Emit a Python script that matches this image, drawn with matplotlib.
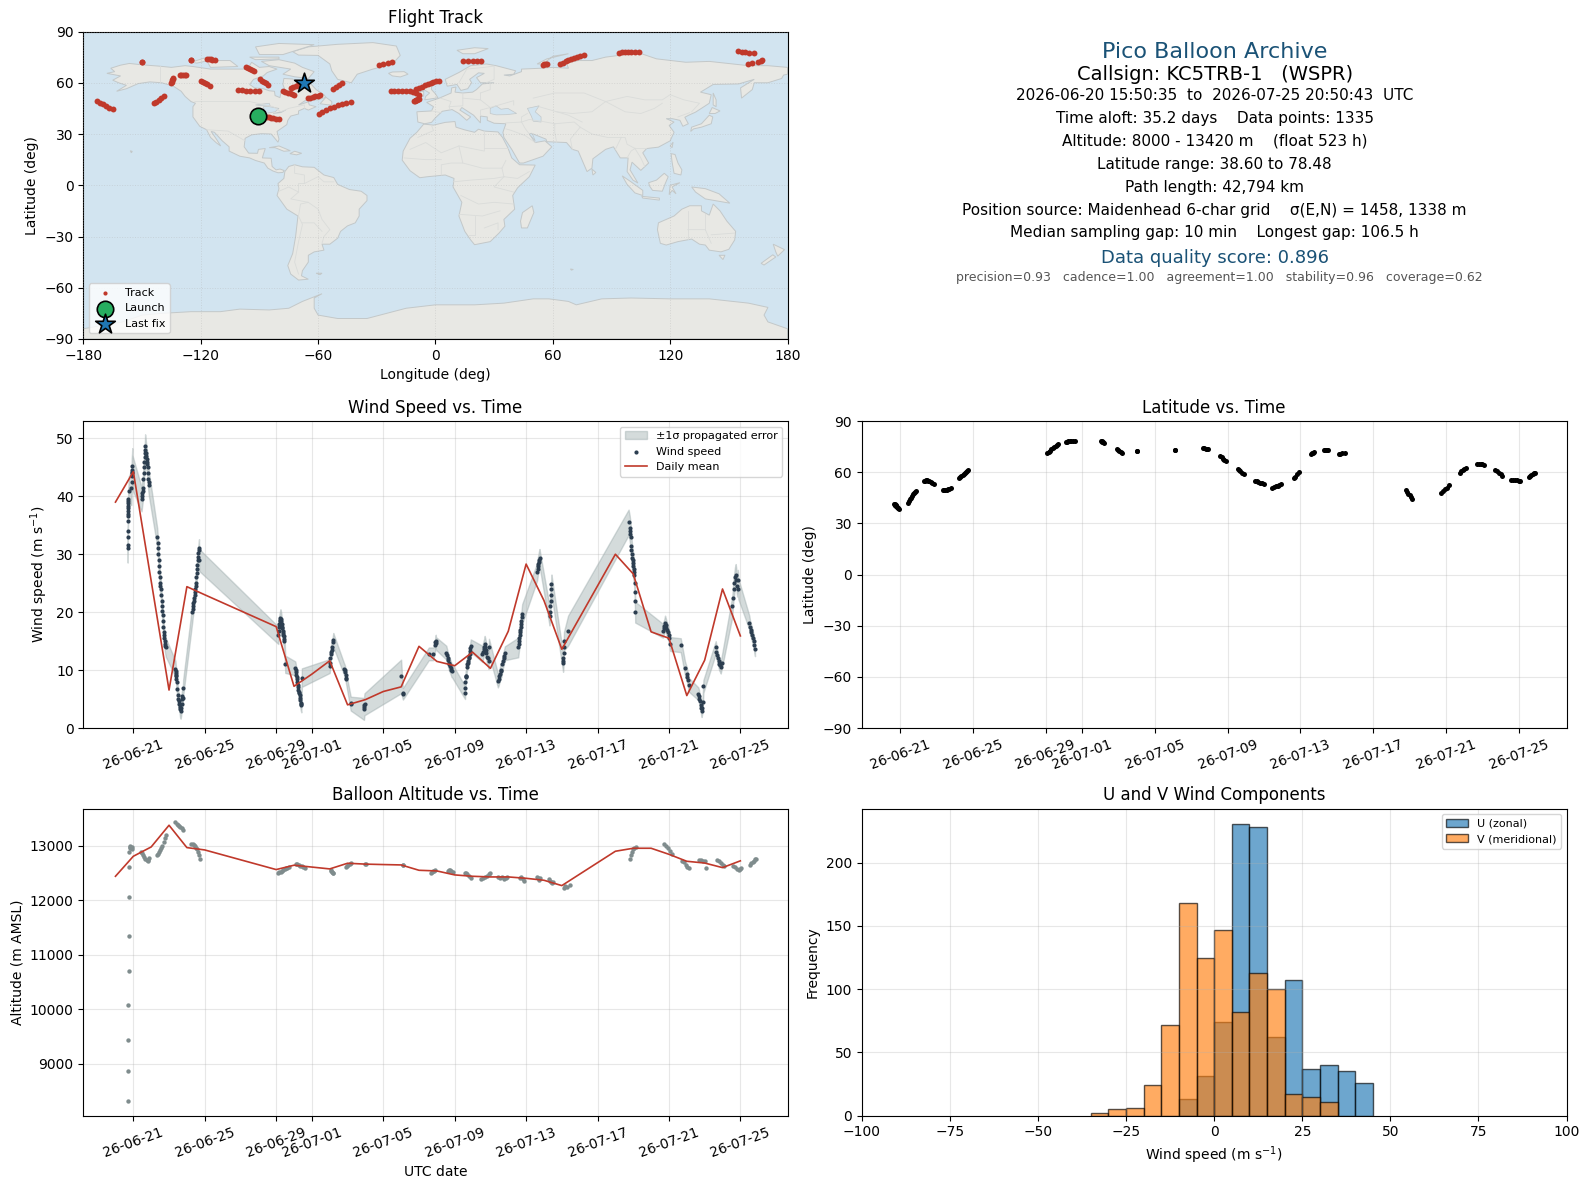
from datetime import datetime
import matplotlib
matplotlib.use("Agg")
import matplotlib.pyplot as plt
import matplotlib.dates as mdates
import numpy as np

# all times are days since 2026-06-20 00:00 UTC
T0 = mdates.date2num(datetime(2026, 6, 20))

track_t = [
    .70, .71, .72, .73, .74, .75, .76, .77, .78, .80, .82, .84, .87, .90, .93,
    1.45, 1.5, 1.56, 1.62, 1.68, 1.74, 1.8, 1.85, 1.9,
    2.35, 2.4, 2.45, 2.5, 2.55, 2.62, 2.7, 2.78, 2.85,
    3.35, 3.42, 3.5, 3.57, 3.64, 3.72, 3.8,
    4.25, 4.32, 4.38, 4.44, 4.5, 4.56, 4.62, 4.68, 4.75,
    9.1, 9.17, 9.25, 9.32, 9.4, 9.47, 9.55, 9.62, 9.7,
    10.1, 10.18, 10.26, 10.34, 10.42, 10.5, 10.6,
    12.05, 12.09, 12.13, 12.17, 12.2,
    12.9, 12.98, 13.05, 13.12, 13.2,
    14.0, 14.02,
    16.1, 16.12,
    17.65, 17.72, 17.8, 17.85, 17.9,
    18.6, 18.67, 18.74, 18.82, 18.9,
    19.55, 19.62, 19.7, 19.8, 19.9,
    20.5, 20.6, 20.7, 20.8, 20.9, 21.0,
    21.45, 21.55, 21.65, 21.75, 21.85, 21.95,
    22.65, 22.72, 22.8, 22.9,
    23.6, 23.65, 23.7, 23.75,
    24.3, 24.35, 24.4, 24.45, 24.5,
    25.1, 25.2, 25.3, 25.45,
    28.8, 28.87, 28.94, 29.0, 29.07, 29.15,
    30.75, 30.85, 30.95, 31.05, 31.15,
    31.75, 31.85, 31.95, 32.0, 32.1,
    32.7, 32.8, 32.9, 33.0, 33.1,
    33.7, 33.8, 33.9, 34.0, 34.1,
    34.6, 34.7, 34.8, 34.9, 35.0, 35.05,
    35.55, 35.62, 35.7, 35.77, 35.83, 35.87,
]
track_alt = [
    8312, 8870, 9440, 10070, 10700, 11340, 12050, 12600, 12880, 12950, 12970, 12990, 12960, 12930, 12970,
    12880, 12860, 12830, 12790, 12760, 12730, 12710, 12740, 12770,
    12820, 12840, 12880, 12910, 12950, 13000, 13060, 13130, 13190,
    13430, 13390, 13370, 13350, 13340, 13330, 13290,
    13025, 13020, 13010, 12990, 12960, 12930, 12890, 12830, 12760,
    12490, 12510, 12520, 12540, 12560, 12570, 12580, 12590, 12600,
    12670, 12660, 12650, 12630, 12620, 12600, 12580,
    12560, 12540, 12520, 12500, 12490,
    12610, 12630, 12650, 12670, 12680,
    12660, 12660,
    12640, 12640,
    12500, 12510, 12530, 12540, 12550,
    12540, 12560, 12550, 12530, 12510,
    12490, 12500, 12470, 12440, 12410,
    12390, 12400, 12420, 12450, 12480, 12500,
    12430, 12400, 12420, 12380, 12400, 12430,
    12410, 12430, 12380, 12350,
    12430, 12400, 12370, 12400,
    12380, 12350, 12330, 12310, 12340,
    12230, 12250, 12240, 12270,
    12760, 12820, 12880, 12930, 12960, 12975,
    13020, 12990, 12950, 12900, 12850,
    12720, 12690, 12650, 12610, 12580,
    12740, 12730, 12710, 12720, 12580,
    12730, 12710, 12680, 12650, 12630,
    12630, 12600, 12570, 12550, 12570, 12590,
    12640, 12680, 12700, 12720, 12760, 12750,
]
track_lat = [
    41.2, 41.1, 41.0, 40.9, 40.8, 40.7, 40.5, 40.4, 40.2, 40.0, 39.8, 39.5, 39.2, 38.9, 38.6,
    42, 43, 44, 45, 46, 47, 47.8, 48.4, 49,
    55.0, 55.1, 55.2, 55.2, 55.1, 54.9, 54.5, 53.9, 53.0,
    49.5, 49.6, 49.7, 49.8, 50, 50.3, 50.7,
    56.6, 57.2, 57.8, 58.4, 59, 59.6, 60.2, 60.8, 61.3,
    71, 71.8, 72.6, 73.4, 74, 74.6, 75.2, 75.8, 76.4,
    77.6, 77.9, 78.0, 78.1, 78.1, 78.1, 78.0,
    78.48, 78, 77.8, 77.6, 77.3,
    73.5, 73, 72.3, 71.7, 71.2,
    72.4, 72.4,
    73.2, 73.2,
    74, 73.9, 73.7, 73.5, 73.3,
    69.5, 68.8, 68, 67.3, 66.6,
    62, 61.2, 60.4, 59.6, 58.8,
    55, 54.6, 54.2, 53.8, 53.4, 53,
    51, 51.3, 51.7, 52, 52.5, 53,
    56.4, 57.4, 58.7, 60,
    70.5, 71, 71.5, 72,
    73, 73, 72.9, 73, 73,
    70.5, 70.7, 71, 71.2,
    49.4, 48.4, 47.4, 46.4, 45.4, 44.5,
    48, 49, 50, 51, 52.3,
    59.8, 60.6, 61.4, 62, 62.7,
    64.6, 64.6, 64.6, 64.5, 64.4,
    61, 60.4, 59.7, 59, 58,
    55.7, 55.6, 55.4, 55.3, 55.1, 55,
    57, 57.6, 58.3, 58.9, 59.4, 59.8,
]
track_lon = [
    -90.9, -90.5, -90, -89.5, -89, -88.5, -88, -87.5, -87, -86, -85, -84, -83, -81.5, -80,
    -59.6, -57.8, -56, -54, -52, -50, -48, -45.5, -43.2,
    -22.8, -21, -19, -17, -15, -13, -11.4, -10, -8.5,
    -11, -10.6, -10.2, -9.8, -9.4, -9, -8.5,
    -9.7, -8.5, -7, -5.5, -4, -2.5, -1, 0.5, 2,
    63.7, 65, 66.5, 68, 69.5, 71, 72.5, 74, 75.7,
    94, 95.5, 97, 98.5, 100, 102, 104,
    154.7, 156.5, 158.5, 160.5, 163,
    167, 166.5, 165, 162, 160,
    -150, -150,
    -125, -125,
    -117, -116, -115, -114, -112.6,
    -97, -96, -95, -94, -93,
    -89.7, -88.8, -87.8, -86.7, -85.6,
    -77.7, -76.7, -75.6, -74.6, -73.5, -72.4,
    -65, -64, -62.8, -61.6, -60.3, -59.1,
    -52.4, -51, -49.5, -47.6,
    -28.8, -26.7, -24.5, -22.3,
    14, 16.5, 19, 21, 23.5,
    55, 55.7, 56.4, 57,
    -173, -171.5, -170, -168.5, -167, -165,
    -143.9, -142.7, -141.5, -140.3, -139,
    -135, -134.8, -134.5, -134.2, -134,
    -130.6, -130, -129, -128.3, -127.5,
    -120, -119, -118, -116.7, -115.5,
    -101, -99, -97, -95, -92.5, -90,
    -74, -72.8, -71.5, -70.2, -68.8, -67.3,
]

wind_t = [
    .68, .68, .69, .69, .70, .70, .70, .71, .71, .71, .72, .72, .73, .74, .89, .90, .91, .92, .93, .94, .94,
    1.46, 1.48, 1.5, 1.52, 1.54, 1.56, 1.58, 1.6, 1.62, 1.64, 1.65, 1.66, 1.68, 1.7, 1.72, 1.74, 1.76, 1.78, 1.8, 1.82, 1.84, 1.86, 1.88,
    2.34, 2.36, 2.38, 2.4, 2.42, 2.44, 2.46, 2.48, 2.5, 2.52, 2.54, 2.56, 2.58, 2.6, 2.62, 2.64, 2.66, 2.68, 2.7, 2.72, 2.74, 2.76, 2.78, 2.8, 2.82,
    3.36, 3.37, 3.38, 3.39, 3.4, 3.41, 3.43, 3.45, 3.5, 3.52, 3.55, 3.58, 3.6, 3.62, 3.65, 3.68, 3.7, 3.72, 3.75, 3.77, 3.79,
    4.31, 4.33, 4.35, 4.37, 4.39, 4.41, 4.43, 4.45, 4.47, 4.49, 4.51, 4.53, 4.55, 4.57, 4.59, 4.61, 4.63, 4.65, 4.67, 4.68, 4.69,
    9.12, 9.14, 9.16, 9.18, 9.2, 9.22, 9.24, 9.26, 9.28, 9.3, 9.32, 9.34, 9.36, 9.38, 9.4, 9.42, 9.44, 9.46,
    9.51, 10.07, 10.09, 10.11, 10.13, 10.15, 10.17, 10.19, 10.21, 10.23, 10.25, 10.27, 10.29, 10.31, 10.33, 10.35, 10.37, 10.39, 10.41, 10.44,
    12.0, 12.02, 12.04, 12.06, 12.08, 12.1, 12.15, 12.18, 12.2,
    12.8, 12.83, 12.86, 12.89, 12.91, 12.93,
    13.17, 13.18, 13.92, 13.93, 13.94, 13.95,
    16.0, 16.09, 16.1,
    17.55, 17.8, 17.9, 17.92, 17.94, 17.95,
    18.53, 18.56, 18.6, 18.63, 18.66, 18.7, 18.74, 18.78, 18.82, 18.86,
    19.58, 19.59, 19.6, 19.61, 19.63, 19.65, 19.67, 19.69, 19.72, 19.75, 19.78, 19.8, 19.83, 19.86, 19.88, 19.9,
    20.55, 20.58, 20.62, 20.65, 20.68, 20.72, 20.75, 20.78, 20.82, 20.86, 20.9, 20.92,
    21.42, 21.46, 21.5, 21.54, 21.58, 21.62, 21.66, 21.7, 21.74, 21.78, 21.81,
    22.56, 22.58, 22.6, 22.62, 22.64, 22.66, 22.68, 22.7, 22.72, 22.74, 22.76, 22.78,
    23.62, 23.64, 23.66, 23.68, 23.7, 23.72, 23.75,
    24.31, 24.33, 24.35, 24.37, 24.39, 24.41, 24.42,
    25.07, 25.08, 25.09, 25.1, 25.11, 25.12, 25.35,
    28.74, 28.8, 28.82, 28.84, 28.86, 28.88, 28.9, 28.92, 28.94, 28.96, 28.98, 29, 29.02, 29.04, 29.06, 29.08, 29.09, 29.1, 29.11,
    30.66, 30.7, 30.74, 30.78, 30.82, 30.86, 30.9, 30.94, 30.98, 31.02, 31.07,
    31.66, 31.9, 32.0, 32.03, 32.06, 32.1,
    32.65, 32.68, 32.71, 32.74, 32.77, 32.8, 32.83, 32.86, 32.89, 32.93,
    33.62, 33.66, 33.7, 33.74, 33.78, 33.82, 33.86, 33.9, 33.95,
    34.55, 34.58, 34.62, 34.66, 34.7, 34.74, 34.78, 34.82, 34.86, 34.89,
    35.5, 35.54, 35.58, 35.62, 35.66, 35.7, 35.74, 35.78, 35.82,
]
wind_v = [
    31, 31.6, 33, 34, 35.7, 36.6, 37, 37.5, 37.9, 38.4, 38.9, 39.2, 39.6, 41, 41.5, 42.5, 43.5, 44, 44.5, 45.3, 44.2,
    39.5, 40, 40.5, 41, 41.5, 43, 44, 45, 46, 46.8, 47.5, 48.6, 48, 47.5, 47, 46.5, 46, 45.5, 45, 44, 43, 42.5, 42,
    32.9, 32, 31, 30, 29, 28, 27, 26, 25, 24.5, 24, 23, 22, 21, 20.2, 19.5, 18.5, 17.5, 16.5, 16, 15.5, 15, 14.5, 14.2, 13.9,
    10.2, 9.8, 9.5, 9.2, 8.9, 8.5, 8, 6.7, 5.7, 5, 4.6, 4.2, 3.7, 3.2, 3, 3.5, 4.2, 5, 5.5, 5.2, 6.9,
    20, 20.6, 21, 21.6, 22, 22.5, 23, 23.5, 24, 24.6, 25, 26, 26.8, 27.5, 28.2, 29, 29.6, 30.2, 30.8, 31.1, 29,
    16, 16.8, 17.5, 18, 18.4, 18.7, 19, 18.8, 18.5, 18, 17.5, 17.2, 16.8, 16.4, 16, 15.8, 15.4, 15,
    11, 10.3, 10, 9.6, 9.2, 8.8, 8.5, 8, 7.5, 7, 6.6, 6.3, 6, 5.7, 5.2, 4.8, 4.4, 4.1, 3.9, 8.7,
    10.7, 11.3, 12, 12.8, 13.2, 13.5, 14, 14.8, 15.2,
    10.2, 10, 9.7, 9.2, 8.7, 8.4,
    4.3, 4.2, 3.3, 3.6, 3.9, 4.1,
    8.9, 6, 5.9,
    12.8, 12.8, 14.3, 14.8, 15, 14.6,
    13, 12.6, 12.1, 11.7, 11.3, 11, 10.7, 10.4, 10, 9.9,
    6.1, 6.9, 8, 8.8, 8.9, 9, 10.5, 11, 11.3, 11.5, 12, 12.2, 12.8, 13.3, 13.8, 14.2,
    12.8, 13.2, 13.7, 14, 14.5, 14, 13.5, 13, 12.3, 12, 11.6, 14,
    8.2, 8.5, 9, 9.4, 9.9, 10, 11, 11.5, 12, 12.5, 12.9,
    13.9, 14.5, 15, 15.5, 16, 16.5, 17, 17.5, 18, 18.5, 19.1, 19.7,
    27, 27.5, 28, 28.3, 28.7, 29, 29.4,
    19.4, 20, 21, 22, 23, 24, 24.8,
    11.3, 11.6, 12, 13, 14, 15, 16.8,
    35.5, 34.5, 34, 33.5, 33, 31.5, 30.8, 30, 29.3, 29, 28.5, 28, 27.5, 27, 26.5, 25, 23.5, 22, 20,
    16.8, 17.2, 17.6, 18.2, 17.8, 17.3, 17, 16.6, 16, 15.5, 14.5,
    14.3, 10.3, 9.3, 8.8, 8.3, 7.5,
    5.9, 5.5, 5, 4.6, 4, 3.5, 3, 3.5, 4.5, 7.2,
    13.9, 13.2, 12.6, 12, 11.5, 11, 10.8, 10.5, 11.2,
    21, 22.5, 24, 25, 26, 26.5, 25.5, 24.5, 25.5, 24,
    18.2, 17.4, 17, 16.5, 16, 15.5, 15, 14.3, 13.6,
]
# 1 sigma of each stretch of points, same order as above
wind_err = (
    [2.4] * 14 + [3.0] * 7 + [2.1] * 23 + [1.6] * 25 + [1.4] * 21 + [1.5] * 20 + [1.9]
    + [1.5] * 17 + [1.8] + [1.5] + [1.2] * 18 + [1.6]
    + [1.2] * 9 + [1.0] * 6 + [1.2] * 2 + [1.9] * 4 + [2.9, 1.0, 1.0] + [1.1] * 6 + [1.2] * 10
    + [1.1] * 16 + [1.4] * 12 + [1.2] * 11 + [1.7] * 12 + [1.5] * 7 + [1.7] * 7 + [1.6] * 6 + [2.6]
    + [2.2] * 17 + [1.8] * 2 + [1.2] * 11 + [1.2] * 6 + [1.1] * 10 + [1.1] * 9 + [1.8] * 10 + [1.2] * 9
)

mean_t = [0, 1, 2, 3, 4, 5, 9, 10, 11, 12, 13, 14, 15, 16, 17, 18, 19, 20, 21, 22, 23, 24, 25, 28, 29, 30, 31, 32, 33, 34, 35]
mean_wind = [39.0, 44.25, 25.4, 6.55, 24.4, 23, 17.5, 7.2, 9.3, 11.6, 4, 4.9, 6.3, 7.1, 14.1, 11.5, 10.75, 13.1, 10.3,
             16.7, 28.3, 22, 13.6, 30, 26.6, 16.6, 15.5, 5.6, 11.7, 24, 15.9]
mean_alt = [12437, 12804, 12975, 13373, 12963, 12920, 12560, 12640, 12606, 12572, 12676, 12660, 12652, 12645, 12547,
            12535, 12462, 12437, 12425, 12425, 12400, 12364, 12266, 12896, 12951, 12951, 12840, 12712, 12680, 12596, 12720]

date_ticks = ["2026-06-21", "2026-06-25", "2026-06-29", "2026-07-01", "2026-07-05", "2026-07-09",
              "2026-07-13", "2026-07-17", "2026-07-21", "2026-07-25"]

bin_edges = list(range(-100, 105, 5))
u_low_edge = [-10, -5, 0, 5, 10, 15, 20, 25, 30, 35, 40]
u_counts = [13, 31, 74, 231, 228, 62, 107, 37, 40, 35, 26]
v_low_edge = [-35, -30, -25, -20, -15, -10, -5, 0, 5, 10, 15, 20, 25, 30]
v_counts = [2, 5, 6, 24, 72, 168, 125, 147, 82, 113, 100, 17, 15, 11]

info_lines = [
    ("Pico Balloon Archive", 16, "#1a5276"),
    ("Callsign: KC5TRB-1   (WSPR)", 14, "black"),
    ("2026-06-20 15:50:35  to  2026-07-25 20:50:43  UTC", 11, "black"),
    ("Time aloft: 35.2 days    Data points: 1335", 11, "black"),
    ("Altitude: 8000 - 13420 m    (float 523 h)", 11, "black"),
    ("Latitude range: 38.60 to 78.48", 11, "black"),
    ("Path length: 42,794 km", 11, "black"),
    ("Position source: Maidenhead 6-char grid    \u03c3(E,N) = 1458, 1338 m", 11, "black"),
    ("Median sampling gap: 10 min    Longest gap: 106.5 h", 11, "black"),
    ("Data quality score: 0.896", 13, "#1a5276"),
    ("precision=0.93   cadence=1.00   agreement=1.00   stability=0.96   coverage=0.62", 9, "#555555"),
]
info_y_px = [52, 75, 95, 118, 140.5, 164, 187.5, 210, 233, 258, 278]
info_x = [0.5007] * 10 + [0.5078]

# rough coastlines, lon/lat
north_america = [(-168, 65.5), (-164, 66.5), (-166, 68.5), (-161, 70.3), (-156.5, 71.3), (-150, 70.5), (-141, 69.7), (-135, 69),
                 (-128, 70), (-124, 69.5), (-115, 68), (-108, 68), (-100, 68), (-96, 68), (-94, 72), (-90, 69), (-85, 69.5),
                 (-81, 68), (-86, 66), (-88, 64), (-93, 62), (-95, 59), (-92.5, 57), (-88, 56.5), (-85, 55.3), (-82.3, 55),
                 (-82, 52.5), (-79.5, 51.3), (-79, 54.5), (-77, 56), (-78, 59), (-77.5, 62.5), (-73, 62.2), (-69.5, 59),
                 (-66, 58.7), (-64.5, 60.3), (-61, 56), (-57, 53), (-56, 51.5), (-60, 50), (-66, 50), (-70, 47), (-65, 48.8),
                 (-64.5, 47), (-61, 46), (-65, 44), (-67, 45), (-70, 43.5), (-70, 41.7), (-74, 40.5), (-75.5, 38), (-76, 35.5),
                 (-81, 31.5), (-80, 27), (-80.5, 25.2), (-82.5, 28), (-84, 30), (-89, 30.2), (-94, 29.5), (-97.3, 27.5),
                 (-97.8, 22.5), (-95.5, 18.8), (-91, 18.7), (-90.5, 21), (-87, 21.5), (-88, 18), (-88.5, 16), (-84, 15.8),
                 (-83.5, 11), (-81.5, 9), (-79.5, 9.5), (-77.3, 8.6), (-78, 7.5), (-80.5, 7.3), (-83, 8.3), (-85.7, 10),
                 (-87.5, 13), (-92, 14.5), (-95, 16), (-100, 17), (-105.5, 20), (-105.5, 22.5), (-109, 26), (-113, 31),
                 (-114.7, 31.5), (-112, 27), (-109.8, 23), (-112, 24.8), (-115, 28), (-117, 32.5), (-120.5, 34.5), (-124, 40),
                 (-124, 46), (-122.7, 48), (-125, 49), (-128, 52), (-130, 55), (-134, 58), (-140, 60), (-146, 60.5),
                 (-152, 59.5), (-158, 56.5), (-163, 55), (-158, 58.5), (-162, 60), (-165, 61.5), (-161, 64)]
south_america = [(-77, 8), (-75, 11), (-72, 12), (-68, 10.8), (-62, 10.5), (-57, 6), (-52, 4.5), (-50, 0.5), (-44, -2.5), (-38, -3.5),
                 (-35, -6), (-35, -9), (-39, -14), (-39, -18), (-41, -22), (-45, -23.8), (-48.5, -27), (-50, -31), (-54, -34.5),
                 (-58, -34.5), (-57, -38), (-62, -39), (-65, -41), (-65, -45), (-68, -50), (-68.5, -53), (-65, -55), (-70, -55.5),
                 (-74, -52), (-75.5, -47), (-73, -40), (-71.5, -30), (-70.3, -18), (-76, -14), (-81, -6), (-80, -2), (-80.5, 1), (-77.5, 4)]
africa = [(-6, 35.8), (-1, 35.2), (5, 36.8), (10, 37.3), (10.5, 34), (15, 32.4), (20, 31), (22, 32.8), (25, 31.7), (32, 31.2), (34.3, 28),
          (37, 22), (39, 16), (43, 12), (51, 11.8), (48, 5), (42, -1.5), (39.5, -6), (40.5, -14), (35, -20), (35.5, -24), (32.5, -28),
          (28, -33), (20, -34.8), (18, -32), (15, -27), (12, -18), (13.5, -10), (9, -1), (9.5, 4), (5, 6), (-4, 5), (-8, 4.4), (-13, 8.5),
          (-17, 14.7), (-16.5, 20), (-13, 27.5), (-9.5, 31)]
eurasia = [(-9, 37), (-9.5, 43), (-2, 43.5), (-1, 46), (-4.5, 48.5), (1.5, 50.8), (4, 52), (8, 54), (8.3, 57), (10.5, 57.5), (10, 54.5),
           (14, 54), (19, 54.5), (21, 56), (24, 59.3), (30, 60), (23, 60), (21, 63), (25, 65.5), (22, 65.8), (17.5, 62), (18.5, 60),
           (16.5, 56.5), (13, 55.5), (11, 59), (6, 58), (5, 62), (12, 66), (18, 70), (26, 71), (31, 70), (41, 67), (40, 65), (35, 64.5),
           (38, 64), (44, 66.5), (44, 68), (54, 68.5), (60, 69), (68, 68.5), (67, 71.5), (73, 73), (80, 73), (87, 75), (104, 77.5),
           (113, 74), (128, 72), (140, 72.5), (160, 70), (170, 70), (180, 69), (180, 65), (178, 64.5), (177, 62.5), (170, 60), (163, 60),
           (162, 56), (156.5, 51), (156, 57), (163, 62), (155, 59.3), (142, 59), (135.5, 54.5), (141, 53), (140, 48), (133, 42.8),
           (129.5, 41), (127.5, 39.8), (129.3, 36), (126.5, 34.5), (125, 38), (121, 39), (118, 39), (122, 37), (119.5, 35), (122, 31),
           (120, 26), (114, 22.3), (108, 21.5), (106, 19), (109, 13), (105, 8.7), (100.5, 13.5), (99.5, 9), (103.5, 1.3), (101, 3), (98, 8),
           (98.5, 16), (94.5, 16), (91, 22.5), (87, 21), (80.5, 15.5), (80, 10), (77.5, 8), (73, 20), (70, 21), (67, 25), (57, 25.5),
           (56.5, 27), (50, 30), (48, 30), (51, 25), (56, 26), (59.5, 22.5), (55, 17), (45, 13), (43, 13), (39, 21), (35, 28), (34.5, 31),
           (36, 36), (30, 36.3), (26.5, 38), (26.5, 40), (23, 40.5), (23, 36.5), (19.5, 41), (13.5, 45.5), (12.5, 44), (18, 40), (16, 38),
           (12, 42), (8.5, 44.3), (3.5, 43.3), (0, 39.5), (-2, 36.8), (-5.5, 36)]
australia = [(114, -22), (122, -18), (126, -14), (130, -12), (136, -12), (136, -15), (140, -17.5), (142, -11), (145.5, -15), (149, -21),
             (153.5, -27), (153, -32), (150, -37.5), (146, -39), (140, -38), (138, -35), (135, -34.5), (131, -31.5), (124, -33), (118, -35),
             (115, -34), (113.5, -26)]
antarctica = [(-180, -84), (-160, -80), (-150, -76), (-140, -75), (-125, -74), (-110, -74), (-100, -72.5), (-85, -73), (-75, -72), (-68, -68),
              (-58, -63.5), (-62, -66), (-62, -72), (-60, -76), (-50, -78), (-35, -78), (-25, -75), (-15, -72), (0, -70), (20, -70), (35, -69),
              (50, -66.5), (58, -66.5), (68, -68), (72, -70), (85, -66.5), (100, -66), (120, -66.5), (140, -66.5), (160, -69), (170, -71.5),
              (168, -76), (170, -80), (180, -84), (180, -90), (-180, -90)]
greenland = [(-73, 78.2), (-65, 81), (-50, 82.5), (-32, 83.5), (-20, 81.5), (-18, 76), (-22, 71), (-32, 68), (-40, 65), (-43, 60), (-50, 62),
             (-53, 67), (-54, 71), (-60, 76), (-70, 76.2)]
islands = [
    [(-80, 73.5), (-72, 71.5), (-68, 69), (-62, 66.5), (-65, 62.5), (-72, 63.5), (-78, 65), (-74, 68), (-85, 70), (-89, 72.5)],
    [(-117, 73), (-105, 73), (-101, 69.5), (-115, 69)],
    [(-90, 76.5), (-78, 76.5), (-62, 82.3), (-80, 83), (-92, 81)],
    [(-125, 72), (-118, 74.5), (-116, 73), (-122, 71.5)],
    [(-95, 75), (-80, 75), (-80, 74), (-92, 73.5)],
    [(-59, 47.7), (-53, 46.8), (-53, 49), (-56, 51.5)],
    [(-85, 22), (-80, 23), (-74.2, 20.2), (-77.5, 19.9), (-82, 22)],
    [(-74.4, 18.5), (-72, 19.9), (-68.4, 18.7), (-71, 17.8)],
    [(-5.5, 50), (1.3, 51.2), (0, 53.5), (-2, 56), (-2, 57.7), (-5, 58.6), (-6, 56), (-3, 54), (-5, 52)],
    [(-10, 52), (-6, 52.2), (-6, 55), (-9.5, 54.5)],
    [(-24, 65.5), (-22, 64), (-18, 63.4), (-14, 65), (-16, 66.5), (-22, 66.3)],
    [(11, 79), (20, 80.5), (27, 80), (20, 77), (14, 77)],
    [(52, 71), (57, 74), (68, 77), (60, 75.5), (55, 71)],
    [(142, 54), (143.5, 50), (143.5, 46), (142, 47)],
    [(130.5, 31.5), (131, 34), (136, 36), (140, 41), (141.8, 40), (141, 36), (136, 34), (132, 33)],
    [(140, 42), (141.5, 45.5), (145.5, 43.5), (143, 42)],
    [(95.5, 5.5), (100, 2), (106, -3), (106, -6), (102, -4.5), (98, 0.5)],
    [(105.5, -6.5), (114.5, -7.5), (114.5, -8.7), (106, -7.5)],
    [(109, 1.5), (113, 3), (117, 7), (119, 5), (117.5, 1), (116, -3.5), (111, -3), (109.5, -0.5)],
    [(119.5, -5.5), (120, 0), (125, 1.5), (121, -1), (123, -5), (121, -3)],
    [(131, -1), (138, -2), (145, -5), (150.5, -10.5), (143, -9), (138, -8), (133, -4)],
    [(120.5, 18.5), (122.5, 18), (124, 13), (126, 9), (125.5, 6), (122, 7), (121, 13.5)],
    [(120, 23), (121.5, 25.2), (121, 22)],
    [(80, 9.5), (82, 7.5), (80.5, 6)],
    [(49.5, -12), (50.3, -16), (47, -25), (44, -25), (43.5, -21), (44.5, -16)],
    [(145, -41), (148, -41), (147, -43.5)],
    [(172.7, -34.5), (178.5, -37.7), (175, -41.5), (174, -39)],
    [(172.5, -40.7), (174, -42), (168, -46.7), (166.5, -45.7)],
    [(-61, -51.5), (-58, -51.5), (-59, -52.3)],
    [(69, -49), (70.5, -49.3), (69.5, -49.7)],
    [(-156, 20.2), (-155, 19.8), (-155.5, 19)],
]
inland_water = [
    [(28, 42), (28, 45), (31, 46.5), (33.5, 44.5), (37, 45), (41.5, 42), (36, 41.3), (31, 41.2)],
    [(47, 45), (53, 46.5), (51, 43), (54, 40), (54, 37), (50, 37.5), (49, 40.5)],
    [(-92, 47), (-85, 48), (-84.5, 46.5), (-88, 46.5)],
    [(-88, 46), (-85, 46), (-80, 45), (-82, 43), (-87, 42)],
    [(-83, 42), (-79, 43), (-76.5, 44), (-79, 42.5)],
    [(49, 30.5), (48, 30), (51, 26), (50, 29)],
]
country_borders = [
    [(-123, 49), (-95, 49), (-83, 46), (-79, 43), (-75, 45), (-67, 47), (-67, 45)],
    [(-117, 32.5), (-106, 31.7), (-97.3, 26)],
    [(-141, 69.7), (-141, 60)],
    [(-70, -18), (-68, -23), (-70, -33), (-72, -45), (-70, -52)],
    [(-58, -34), (-57, -30), (-54, -26), (-58, -20), (-60, -14), (-65, -10), (-74, -8), (-70, -4), (-70, 1), (-67, 1), (-60, 5), (-57, 2), (-52, 2)],
    [(-72, 12), (-72, 7), (-67, 6), (-67, 1)],
    [(-80, -3.5), (-75, -1), (-70, -4)],
    [(-70, -18), (-69, -11), (-65, -10)],
    [(-68, -22), (-62, -22), (-58, -27)],
    [(-9, 28), (-1, 32), (-2, 35)],
    [(-13, 21), (-5, 25), (3, 19), (12, 23), (25, 20), (25, 31.5)],
    [(25, 22), (37, 22)],
    [(12, 23), (14, 13), (8, 13), (3, 12), (3, 6)],
    [(-16, 16), (-5, 15), (3, 15)],
    [(14, 13), (24, 10), (34, 10), (36, 14.5)],
    [(34, 10), (35, 5), (42, 4), (48, 8)],
    [(35, 5), (30, -1), (40, -4)],
    [(9, 2), (18, 3), (30, 4), (35, 5)],
    [(13, -6), (22, -11), (30, -10), (40, -11)],
    [(12, -17), (24, -18), (33, -15)],
    [(20, -18), (20, -29), (17, -29)],
    [(25, -25), (32, -22), (32, -26)],
    [(-2, 43.5), (3, 42.5)],
    [(2.5, 51), (8, 49), (7, 46), (7.5, 44)],
    [(7, 46), (14, 46.5), (14, 51), (14, 54)],
    [(14, 51), (23, 50), (23, 54)],
    [(23, 50), (28, 45.5), (23, 44), (23, 41)],
    [(28, 45.5), (40, 49.5), (40, 47)],
    [(23, 54), (28, 56), (28, 60)],
    [(12, 60), (16, 68), (25, 69), (30, 69.8), (30, 62), (26, 60)],
    [(47, 42), (44, 40), (44, 37), (36, 36.5)],
    [(44, 37), (46, 33), (48, 30)],
    [(36, 33), (39, 32), (46, 29), (51, 25)],
    [(53, 46), (62, 43), (68, 41), (75, 37)],
    [(50, 51), (61, 54), (76, 54), (87, 49), (80, 43), (70, 42), (62, 43)],
    [(61, 36), (61, 31), (62, 25)],
    [(61, 36), (71, 37), (74, 34), (69, 27), (70, 21)],
    [(87, 49), (98, 52), (107, 50), (116, 50), (120, 53), (127, 50), (135, 48), (131, 43)],
    [(74, 34), (80, 30), (88, 28), (97, 28), (98, 24), (102, 21.5), (108, 21.5)],
    [(87, 49), (97, 43), (105, 42), (112, 45), (116, 48)],
    [(92, 21), (95, 28)],
    [(98, 16), (100, 20), (102, 21.5)],
    [(102, 21.5), (105, 16), (107, 11)],
    [(44, 37), (48, 38.5), (54, 37.5), (61, 36)],
    [(124, 40), (130, 42.5)],
    [(129, -15), (129, -31.5)],
    [(129, -26), (138, -26), (141, -34)],
    [(138, -17), (138, -26)],
    [(141, -29), (153, -28)],
]

FIG_W, FIG_H = 1590, 1189
fig = plt.figure(figsize=(FIG_W / 100, FIG_H / 100), dpi=100)


def px_axes(left, top, right, bottom):
    return fig.add_axes([left / FIG_W, 1 - bottom / FIG_H, (right - left) / FIG_W, (bottom - top) / FIG_H])


LEFT = (83.4, 787.5)
RIGHT = (861.7, 1566.6)
ROW1 = (31.5, 339)
ROW2 = (421, 728)
ROW3 = (808.5, 1115.5)

RED = "#c0392b"
NAVY = "#2c3e50"
GRAY = "#7f8c8d"

# flight track
ax = px_axes(LEFT[0], ROW1[0], LEFT[1], ROW1[1])
ax.set_facecolor("#d2e4f0")
land = [north_america, south_america, africa, eurasia, australia, antarctica, greenland] + islands
for poly in land:
    xy = np.array(poly)
    ax.fill(xy[:, 0], xy[:, 1], facecolor="#e8e8e4", edgecolor="#c3c8c9", linewidth=0.7, zorder=1)
for poly in inland_water:
    xy = np.array(poly)
    ax.fill(xy[:, 0], xy[:, 1], facecolor="#d2e4f0", edgecolor="#c3c8c9", linewidth=0.5, zorder=1.1)
for line in country_borders:
    xy = np.array(line)
    ax.plot(xy[:, 0], xy[:, 1], color="#dadcda", linewidth=0.6, zorder=1.2)
ax.scatter(track_lon, track_lat, s=18, color=RED, linewidths=0, zorder=3)
h_track = ax.scatter([], [], s=9, color=RED, linewidths=0, label="Track")
h_launch = ax.scatter(track_lon[0], 40.4, s=140, color="#27ae60", edgecolors="black", linewidths=1.2, zorder=4, label="Launch")
h_last = ax.scatter(track_lon[-1], track_lat[-1], s=220, marker="*", color="#1f77b4", edgecolors="black", linewidths=1.2,
                    zorder=5, label="Last fix")
ax.set_xlim(-180, 180)
ax.set_ylim(-90, 90)
ax.set_xticks(np.arange(-180, 181, 60))
ax.set_yticks(np.arange(-90, 91, 30))
ax.grid(True, alpha=0.35, linestyle=":", linewidth=0.7, zorder=2)
ax.set_axisbelow(False)
ax.set_title("Flight Track", fontsize=12)
ax.set_xlabel("Longitude (deg)")
ax.set_ylabel("Latitude (deg)")
ax.legend(handles=[h_track, h_launch, h_last], loc="lower left", fontsize=8)

# summary text
ax = px_axes(RIGHT[0], ROW1[0], RIGHT[1], ROW1[1])
ax.axis("off")
for (txt, size, col), y_px, x_frac in zip(info_lines, info_y_px, info_x):
    ax.text(x_frac, (ROW1[1] - y_px) / (ROW1[1] - ROW1[0]), txt, fontsize=size, color=col, ha="center", va="center",
            transform=ax.transAxes)

tick_nums = [mdates.datestr2num(d) for d in date_ticks]
xlim = (T0 - 1.796, T0 + 37.64)
wind_dates = T0 + np.array(wind_t)
track_dates = T0 + np.array(track_t)
mean_dates = T0 + np.array(mean_t)


def time_axis(ax, limits=xlim):
    ax.set_xlim(limits)
    ax.set_xticks(tick_nums)
    ax.xaxis.set_major_formatter(mdates.DateFormatter("%y-%m-%d"))
    ax.tick_params(axis="x", labelrotation=20)
    ax.grid(True, alpha=0.3)


# wind speed
ax = px_axes(LEFT[0], ROW2[0], LEFT[1], ROW2[1])
v = np.array(wind_v)
e = np.array(wind_err)
h_band = ax.fill_between(wind_dates, v - e, v + e, color="#95a5a6", alpha=0.4, label="\u00b11\u03c3 propagated error")
h_wind = ax.scatter(wind_dates, v, s=9, color=NAVY, linewidths=0, zorder=3, label="Wind speed")
h_mean, = ax.plot(mean_dates, mean_wind, color=RED, linewidth=1.2, zorder=4, label="Daily mean")
time_axis(ax)
ax.set_ylim(0, 53)
ax.set_title("Wind Speed vs. Time", fontsize=12)
ax.set_ylabel("Wind speed (m s$^{-1}$)")
ax.legend(handles=[h_band, h_wind, h_mean], loc="upper right", fontsize=8)

# latitude, no daily mean here so the time range starts later
ax = px_axes(RIGHT[0], ROW2[0], RIGHT[1], ROW2[1])
ax.scatter(track_dates, track_lat, s=13, color="black", linewidths=0, zorder=3)
time_axis(ax, (T0 - 1.10, T0 + 37.63))
ax.set_ylim(-90, 90)
ax.set_yticks(np.arange(-90, 91, 30))
ax.set_title("Latitude vs. Time", fontsize=12)
ax.set_ylabel("Latitude (deg)")

# altitude
ax = px_axes(LEFT[0], ROW3[0], LEFT[1], ROW3[1])
ax.scatter(track_dates, track_alt, s=10, color=GRAY, linewidths=0, zorder=3)
ax.plot(mean_dates, mean_alt, color=RED, linewidth=1.2, zorder=4)
time_axis(ax)
ax.set_ylim(8050, 13680)
ax.set_title("Balloon Altitude vs. Time", fontsize=12)
ax.set_xlabel("UTC date")
ax.set_ylabel("Altitude (m AMSL)")

# U / V histogram
ax = px_axes(RIGHT[0], ROW3[0], RIGHT[1], ROW3[1])
ax.bar(u_low_edge, u_counts, width=5, align="edge", color="C0", edgecolor="black", alpha=0.65, label="U (zonal)")
ax.bar(v_low_edge, v_counts, width=5, align="edge", color="C1", edgecolor="black", alpha=0.65, label="V (meridional)")
ax.set_xlim(bin_edges[0], bin_edges[-1])
ax.set_ylim(0, 243)
ax.grid(True, alpha=0.3)
ax.set_title("U and V Wind Components", fontsize=12)
ax.set_xlabel("Wind speed (m s$^{-1}$)")
ax.set_ylabel("Frequency")
ax.legend(loc="upper right", fontsize=8)

fig.savefig("out.png", dpi=100)
